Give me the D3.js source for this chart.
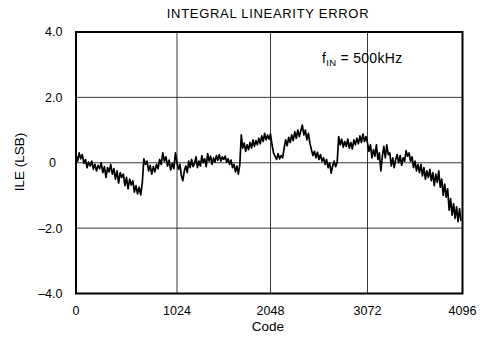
<!DOCTYPE html>
<html>
<head>
<meta charset="utf-8">
<script src="https://cdn.jsdelivr.net/npm/d3@7"></script>
<style>
  body { margin: 0; background: #fff; }
  text { font-family: "Liberation Sans", Arial, sans-serif; fill: #000; }
</style>
</head>
<body>
<div id="chart"></div>
<script>
// ILE samples, one every 16 codes starting at code 0
const codeStep = 16;
const ileValues = [
  0.22, 0.05, 0.30, 0.12, 0.25, -0.02, 0.10, -0.15, 0.02, -0.10,
  0.05, -0.20, -0.05, -0.25, -0.08, -0.18, 0.00, -0.30, -0.12, -0.45,
  -0.15, -0.28, -0.05, -0.35, -0.18, -0.50, -0.25, -0.62, -0.30, -0.45,
  -0.35, -0.70, -0.45, -0.80, -0.50, -0.68, -0.55, -0.90, -0.70, -0.95,
  -0.75, -0.98, -0.62, 0.12, -0.05, 0.05, -0.25, -0.08, -0.35, -0.12,
  -0.28, -0.05, -0.18, 0.10, -0.05, 0.30, 0.05, 0.18, -0.10, 0.08,
  -0.22, -0.02, -0.18, 0.30, 0.00, -0.20, -0.05, -0.40, -0.55, -0.25,
  -0.10, -0.30, 0.05, -0.15, 0.10, -0.12, -0.02, 0.18, -0.15, 0.05,
  -0.10, 0.22, 0.00, 0.12, -0.12, 0.28, 0.05, 0.20, -0.05, 0.15,
  0.02, 0.22, 0.08, 0.25, 0.05, 0.18, 0.10, 0.20, 0.02, 0.12,
  -0.05, 0.08, -0.15, -0.05, -0.28, -0.10, -0.35, -0.05, 0.85, 0.45,
  0.60, 0.35, 0.55, 0.40, 0.62, 0.45, 0.70, 0.50, 0.68, 0.55,
  0.75, 0.58, 0.82, 0.65, 0.90, 0.70, 0.85, 0.72, 0.88, 0.55,
  0.30, 0.20, 0.10, 0.28, 0.12, 0.22, 0.15, 0.45, 0.70, 0.52,
  0.78, 0.62, 0.85, 0.68, 0.95, 0.75, 1.00, 0.80, 0.98, 1.15,
  0.85, 1.00, 0.70, 0.90, 0.60, 0.40, 0.22, 0.35, 0.15, 0.32,
  0.10, 0.25, 0.05, 0.15, -0.05, 0.10, -0.15, 0.00, -0.32, -0.10,
  0.05, -0.12, 0.02, 0.80, 0.55, 0.72, 0.48, 0.65, 0.50, 0.72,
  0.45, 0.62, 0.42, 0.70, 0.55, 0.75, 0.58, 0.82, 0.62, 0.88,
  0.65, 0.80, 0.60, 0.35, 0.55, 0.15, 0.40, 0.20, 0.55, 0.10,
  0.30, -0.25, 0.20, 0.50, 0.15, 0.55, 0.25, 0.30, -0.10, 0.15,
  -0.15, 0.10, 0.25, 0.00, 0.22, -0.08, 0.15, 0.05, 0.37, 0.20,
  0.30, 0.05, 0.18, -0.15, 0.05, -0.25, -0.05, -0.30, -0.05, -0.40,
  -0.15, -0.50, -0.25, -0.45, -0.20, -0.55, -0.30, -0.70, -0.35, -0.60,
  -0.25, -0.75, -0.50, -1.00, -0.65, -1.05, -0.80, -1.45, -1.10, -1.60,
  -1.25, -1.70, -1.35, -1.80, -1.40, -1.78
];
const xTicks = [0, 1024, 2048, 3072, 4096];
const yTicks = [-4, -2, 0, 2, 4];
const yTickLabels = ["\u20134.0", "\u20132.0", "0", "2.0", "4.0"];

const width = 485, height = 344;
const svg = d3.select("#chart").append("svg")
    .attr("width", width)
    .attr("height", height);

// the printed grid is slightly uneven, follow it piecewise
const x = d3.scaleLinear()
    .domain(xTicks)
    .range([76, 177, 270.5, 367.5, 462.5]);
const y = d3.scaleLinear()
    .domain([-4, 4])
    .range([293.5, 32]);

// grid lines
svg.append("g")
    .selectAll("line")
    .data(xTicks.slice(1, -1))
    .join("line")
    .attr("x1", d => x(d)).attr("x2", d => x(d))
    .attr("y1", y(4)).attr("y2", y(-4))
    .attr("stroke", "#222").attr("stroke-width", 0.9);
svg.append("g")
    .selectAll("line")
    .data(yTicks.slice(1, -1))
    .join("line")
    .attr("x1", x(0)).attr("x2", x(4096))
    .attr("y1", d => y(d)).attr("y2", d => y(d))
    .attr("stroke", "#222").attr("stroke-width", 0.9);

// data trace
const line = d3.line()
    .x((d, i) => x(i * codeStep))
    .y(d => y(d));
svg.append("path")
    .datum(ileValues)
    .attr("d", line)
    .attr("fill", "none")
    .attr("stroke", "#000")
    .attr("stroke-width", 1.7)
    .attr("stroke-linejoin", "round");

// frame
svg.append("rect")
    .attr("x", x(0)).attr("y", y(4))
    .attr("width", x(4096) - x(0))
    .attr("height", y(-4) - y(4))
    .attr("fill", "none")
    .attr("stroke", "#000")
    .attr("stroke-width", 2);

// tick labels
svg.append("g")
    .selectAll("text")
    .data(xTicks)
    .join("text")
    .attr("x", d => x(d))
    .attr("y", 315)
    .attr("text-anchor", "middle")
    .attr("font-size", 12.5)
    .text(d => d);
svg.append("g")
    .selectAll("text")
    .data(yTicks)
    .join("text")
    .attr("x", d => d === 0 ? 56 : 62.5)
    .attr("y", d => y(d))
    .attr("dy", "0.35em")
    .attr("text-anchor", "end")
    .attr("font-size", 12.5)
    .text((d, i) => yTickLabels[i]);

// titles
svg.append("text")
    .attr("x", 268).attr("y", 18)
    .attr("text-anchor", "middle")
    .attr("font-size", 13)
    .attr("letter-spacing", 0.7)
    .text("INTEGRAL LINEARITY ERROR");
svg.append("text")
    .attr("x", 268).attr("y", 331)
    .attr("text-anchor", "middle")
    .attr("font-size", 13.5)
    .text("Code");
svg.append("text")
    .attr("transform", "translate(23.5,162) rotate(-90)")
    .attr("text-anchor", "middle")
    .attr("font-size", 13.5)
    .text("ILE (LSB)");

// annotation
const note = svg.append("text")
    .attr("x", 322).attr("y", 63)
    .attr("font-size", 14)
    .attr("letter-spacing", 0.3);
note.append("tspan").text("f");
note.append("tspan").attr("font-size", 9.5).attr("dy", 3).text("IN");
note.append("tspan").attr("dy", -3).text(" = 500kHz");
</script>
</body>
</html>
